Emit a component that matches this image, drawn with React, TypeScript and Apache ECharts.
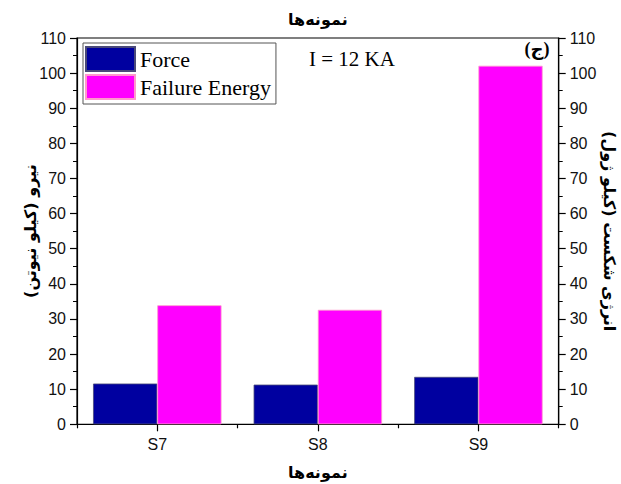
import React, { useEffect, useRef } from 'react';
import * as echarts from 'echarts';

const categories = ['S7', 'S8', 'S9'];
const forceValues = [11.6, 11.3, 13.5];
const energyValues = [33.9, 32.6, 102.1];
const seriesNames = ['Force', 'Failure Energy'];
const axisMin = 0;
const axisMax = 110;
const axisInterval = 10;
const xTitle = 'نمونه\u200cها';
const leftTitle = 'نیرو (کیلو نیوتن)\u200f';
const rightTitle = 'انرژی شکست (کیلو ژول)\u200f';
const currentLabel = 'I = 12 KA';
const panelLabel = '(ج)';

const GRID = { left: 77, top: 38, right: 62.3, bottom: 59.7, outerBoundsMode: 'none' };
const persianFont = { fontFamily: 'DejaVu Sans', fontWeight: 'bold' as const, fontSize: 16, color: '#000' };
const tickFont = { fontFamily: 'Liberation Sans', fontSize: 16, color: '#111' };

export default function App() {
  const ref = useRef<HTMLDivElement>(null);
  useEffect(() => {
    if (!ref.current) return;
    const chart = echarts.init(ref.current, undefined, { renderer: 'svg' });
    const yAxisCommon = {
      type: 'value' as const,
      min: axisMin,
      max: axisMax,
      interval: axisInterval,
      nameLocation: 'middle' as const,
      nameMoveOverlap: false,
      nameTextStyle: persianFont,
      axisLine: { show: true, lineStyle: { color: '#000', width: 1.2 } },
      axisTick: { show: true, length: 7, inside: false, lineStyle: { color: '#000', width: 1.2 } },
      minorTick: { show: true, splitNumber: 2, length: 4, lineStyle: { color: '#000', width: 1 } },
      splitLine: { show: false },
      axisLabel: { ...tickFont, margin: 11 },
    };
    chart.setOption({
      animation: false,
      backgroundColor: '#fff',
      grid: [
        { ...GRID, show: true, borderColor: '#000', borderWidth: 1.2, backgroundColor: 'transparent' },
        { ...GRID },
      ],
      legend: {
        orient: 'vertical',
        left: 83,
        top: 43,
        padding: [3, 5, 4, 2],
        itemGap: 2,
        itemWidth: 49,
        itemHeight: 24,
        borderColor: '#555',
        borderWidth: 1,
        icon: 'rect',
        textStyle: { fontFamily: 'Liberation Serif', fontSize: 22, color: '#000', lineHeight: 24, padding: [0, 0, 0, 0] },
        data: seriesNames,
      },
      xAxis: [
        {
          type: 'category',
          gridIndex: 0,
          position: 'bottom',
          data: categories,
          name: xTitle,
          nameLocation: 'middle',
          nameMoveOverlap: false,
          nameGap: 40,
          nameTextStyle: persianFont,
          axisLine: { show: true, lineStyle: { color: '#000', width: 1.2 } },
          axisTick: { show: true, alignWithLabel: true, length: 7, lineStyle: { color: '#000', width: 1.2 } },
          axisLabel: { ...tickFont, margin: 12 },
          splitLine: { show: false },
        },
        {
          type: 'category',
          gridIndex: 0,
          position: 'top',
          data: categories,
          name: xTitle,
          nameLocation: 'middle',
          nameMoveOverlap: false,
          nameGap: 11,
          nameTextStyle: persianFont,
          axisLine: { show: false },
          axisTick: { show: false },
          axisLabel: { show: false },
          splitLine: { show: false },
        },
        {
          type: 'category',
          gridIndex: 1,
          position: 'bottom',
          data: categories,
          axisLine: { show: false },
          axisTick: { show: true, length: 4, lineStyle: { color: '#000', width: 1.2 } },
          axisLabel: { show: false },
          splitLine: { show: false },
        },
      ],
      yAxis: [
        { ...yAxisCommon, gridIndex: 0, position: 'left', name: leftTitle, nameRotate: 90, nameGap: 39 },
        { ...yAxisCommon, gridIndex: 0, position: 'right', name: rightTitle, nameRotate: -90, nameGap: 43 },
        { type: 'value', gridIndex: 1, show: false, min: axisMin, max: axisMax },
      ],
      series: [
        {
          type: 'bar',
          name: seriesNames[0],
          xAxisIndex: 0,
          yAxisIndex: 0,
          data: forceValues,
          barGap: '0%',
          barCategoryGap: '20%',
          itemStyle: { color: '#0000A0', borderColor: '#4a4a7a', borderWidth: 0.8 },
        },
        {
          type: 'bar',
          name: seriesNames[1],
          xAxisIndex: 0,
          yAxisIndex: 1,
          data: energyValues,
          barGap: '0%',
          barCategoryGap: '20%',
          itemStyle: { color: '#FF00FF', borderColor: '#ff99cc', borderWidth: 0.8 },
        },
      ],
      graphic: [
        {
          type: 'text',
          x: 309,
          y: 59,
          style: { text: currentLabel, fontFamily: 'Liberation Serif', fontSize: 21, fill: '#000', verticalAlign: 'middle', align: 'left' },
        },
        {
          type: 'text',
          x: 537,
          y: 49,
          style: { text: panelLabel, fontFamily: 'Liberation Serif, DejaVu Sans', fontSize: 18, fontWeight: 'bold', fill: '#000', verticalAlign: 'middle', align: 'center' },
        },
      ],
    });
    return () => chart.dispose();
  }, []);
  return <div ref={ref} style={{ position: 'fixed', left: 0, top: 0, width: 621, height: 484 }} />;
}
